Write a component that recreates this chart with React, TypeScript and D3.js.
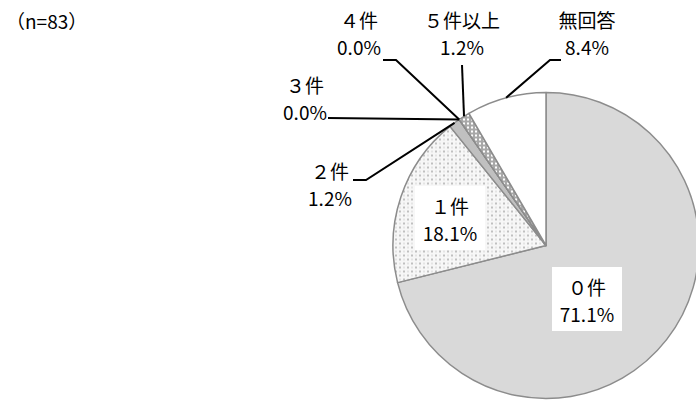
import React, { useEffect, useRef } from "react";
import * as d3 from "d3";

// chart data (clockwise from 12 o'clock)
const categories = ["０件", "１件", "２件", "３件", "４件", "５件以上", "無回答"];
const percents = [71.1, 18.1, 1.2, 0.0, 0.0, 1.2, 8.4];
const sampleLabel = "（n=83）";

// fills per slice
const fills: Record<string, string> = {
  "０件": "#d9d9d9",
  "１件": "url(#dots)",
  "２件": "#c0c0c0",
  "３件": "#c0c0c0",
  "４件": "#c0c0c0",
  "５件以上": "url(#checks)",
  "無回答": "#ffffff",
};

// label layout: inside labels get a white box, outside ones get a leader line
// [textX, firstLineY, lineStartX, lineStartY, elbowX]
const outside: Record<string, number[]> = {
  "２件": [330, 172, 353, 180, 366],
  "３件": [305, 86, 328, 118, 328],
  "４件": [359, 21, 383, 60, 396],
  "５件以上": [462, 21, 462, 65, 462],
  "無回答": [587, 21, 561, 60, 550],
};
const inside: Record<string, number[]> = {
  "０件": [587, 288],
  "１件": [450, 207],
};

const App = () => {
  const svgRef = useRef<SVGSVGElement>(null);

  useEffect(() => {
    const svg = d3.select(svgRef.current);
    svg.selectAll("*").remove();

    const cx = 546;
    const cy = 245.5;
    const r = 153;
    const font = "'Noto Sans CJK JP', sans-serif";
    const fs = 19;

    const defs = svg.append("defs");
    const dots = defs
      .append("pattern")
      .attr("id", "dots")
      .attr("width", 8)
      .attr("height", 8)
      .attr("patternUnits", "userSpaceOnUse");
    dots.append("rect").attr("width", 8).attr("height", 8).attr("fill", "#f7f7f7");
    dots.append("circle").attr("cx", 2).attr("cy", 2).attr("r", 0.8).attr("fill", "#7a7a7a");
    dots.append("circle").attr("cx", 6).attr("cy", 6).attr("r", 0.8).attr("fill", "#7a7a7a");
    dots.append("circle").attr("cx", 6).attr("cy", 2).attr("r", 1).attr("fill", "#dedede");
    dots.append("circle").attr("cx", 2).attr("cy", 6).attr("r", 1).attr("fill", "#dedede");

    const checks = defs
      .append("pattern")
      .attr("id", "checks")
      .attr("width", 4)
      .attr("height", 4)
      .attr("patternUnits", "userSpaceOnUse");
    checks.append("rect").attr("width", 4).attr("height", 4).attr("fill", "#a8a8a8");
    checks.append("rect").attr("x", 1).attr("y", 1).attr("width", 2).attr("height", 2).attr("fill", "#ffffff");

    const data = categories.map((c, i) => ({ cat: c, value: percents[i] }));
    const pie = d3
      .pie<{ cat: string; value: number }>()
      .sort(null)
      .value((d) => d.value);
    const arcs = pie(data);
    const arc = d3
      .arc<d3.PieArcDatum<{ cat: string; value: number }>>()
      .innerRadius(0)
      .outerRadius(r);

    const g = svg.append("g").attr("transform", `translate(${cx},${cy})`);
    g.selectAll("path")
      .data(arcs)
      .enter()
      .append("path")
      .attr("d", arc)
      .attr("fill", (d) => fills[d.data.cat])
      .attr("stroke", "#8c8c8c")
      .attr("stroke-width", 1.5)
      .attr("stroke-linejoin", "round");

    const fmt = d3.format(".1f");

    const addLabel = (x: number, y: number, cat: string, v: number) => {
      const t = svg
        .append("text")
        .attr("text-anchor", "middle")
        .attr("font-family", font)
        .attr("font-size", fs)
        .attr("fill", "#000");
      t.append("tspan").attr("x", x).attr("y", y).attr("dy", "0.35em").text(cat);
      t.append("tspan")
        .attr("x", x)
        .attr("y", y + 27)
        .attr("dy", "0.35em")
        .text(fmt(v) + "%");
    };

    // leader lines
    arcs.forEach((a) => {
      const o = outside[a.data.cat];
      if (!o) return;
      const mid = (a.startAngle + a.endAngle) / 2;
      const ex = cx + r * Math.sin(mid);
      const ey = cy - r * Math.cos(mid);
      svg
        .append("polyline")
        .attr("points", `${o[2]},${o[3]} ${o[4]},${o[3]} ${ex},${ey}`)
        .attr("fill", "none")
        .attr("stroke", "#000")
        .attr("stroke-width", 2);
      addLabel(o[0], o[1], a.data.cat, a.data.value);
    });

    // inside labels
    arcs.forEach((a) => {
      const p = inside[a.data.cat];
      if (!p) return;
      svg
        .append("rect")
        .attr("x", p[0] - 35)
        .attr("y", p[1] - 21)
        .attr("width", 70)
        .attr("height", 64)
        .attr("fill", "#fff");
      addLabel(p[0], p[1], a.data.cat, a.data.value);
    });

    svg
      .append("text")
      .attr("x", 6)
      .attr("y", 22)
      .attr("dy", "0.35em")
      .attr("font-family", font)
      .attr("font-size", fs)
      .text(sampleLabel);
  }, []);

  return (
    <svg
      ref={svgRef}
      width={696}
      height={400}
      style={{ position: "absolute", left: 0, top: 0, background: "#fff" }}
    ></svg>
  );
};

export default App;
